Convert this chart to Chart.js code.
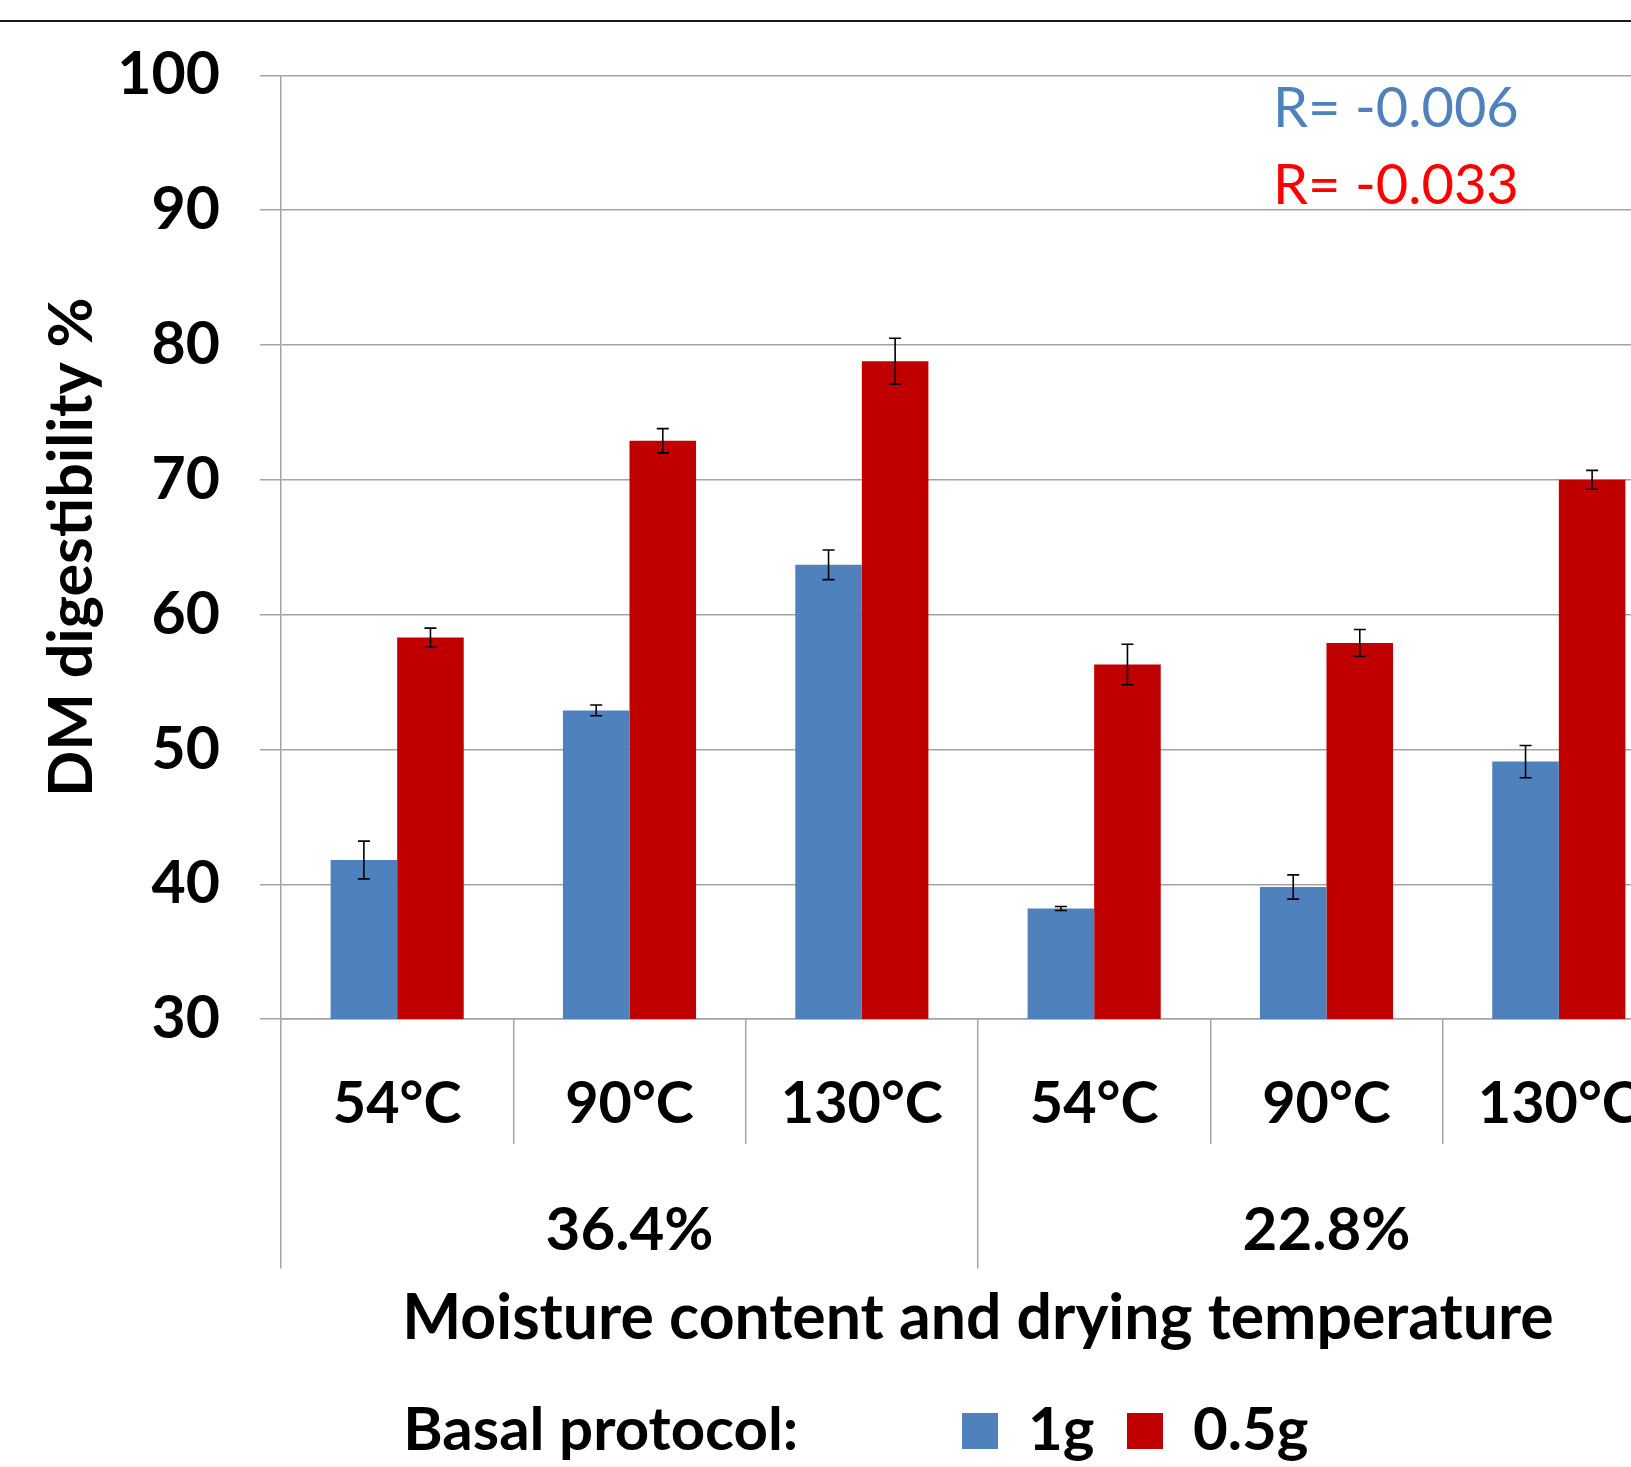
<!DOCTYPE html>
<html>
<head>
<meta charset="utf-8">
<script src="https://cdn.jsdelivr.net/npm/chart.js@4.4.1/dist/chart.umd.min.js"></script>
<style>
  html, body { margin: 0; padding: 0; background: #fff; overflow: hidden; }
  #wrap { position: relative; width: 1631px; height: 1467px; overflow: hidden; }
  #rule { position: absolute; left: 0; top: 20px; width: 1631px; height: 2px; background: #1a1a1a; }
  canvas { position: absolute; left: 0; top: 0; }
</style>
</head>
<body>
<div id="wrap">
  <canvas id="chart" width="1675" height="1471"></canvas>
  <div id="rule"></div>
</div>
<script>
'use strict';

// categories
const temperatures = ['54°C', '90°C', '130°C', '54°C', '90°C', '130°C'];
const moistureGroups = ['36.4%', '22.8%'];

// DM digestibility (%) with error bars
const basal1g = [41.8, 52.9, 63.7, 38.2, 39.8, 49.1];
const basal1gErr = [1.4, 0.4, 1.1, 0.15, 0.9, 1.2];
const basal05g = [58.3, 72.9, 78.8, 56.3, 57.9, 70.0];
const basal05gErr = [0.7, 0.9, 1.7, 1.5, 1.0, 0.7];

// y axis
const yMin = 30;
const yMax = 100;
const yStep = 10;

const rLabels = ['R= -0.006', 'R= -0.033'];

const BLUE = '#4f81bd';
const RED = '#c00000';
const GRID = '#a3a3a3';
const bold = size => ({ family: 'Lato', weight: 'bold', size });

// error bars drawn from the bar elements and the y scale
const errorBars = {
  id: 'errorBars',
  afterDatasetsDraw(chart) {
    const { ctx } = chart;
    const y = chart.scales.y;
    ctx.save();
    ctx.strokeStyle = '#000';
    ctx.lineWidth = 1.6;
    chart.data.datasets.forEach((ds, i) => {
      chart.getDatasetMeta(i).data.forEach((bar, j) => {
        const top = y.getPixelForValue(ds.data[j] + ds.errors[j]);
        const bottom = y.getPixelForValue(ds.data[j] - ds.errors[j]);
        ctx.beginPath();
        ctx.moveTo(bar.x, top);
        ctx.lineTo(bar.x, bottom);
        ctx.moveTo(bar.x - 6, top);
        ctx.lineTo(bar.x + 6, top);
        ctx.moveTo(bar.x - 6, bottom);
        ctx.lineTo(bar.x + 6, bottom);
        ctx.stroke();
      });
    });
    ctx.restore();
  }
};

// correlation labels in the top right
const rText = {
  id: 'rText',
  afterDraw(chart) {
    const { ctx } = chart;
    ctx.save();
    ctx.font = '400 56px Lato';
    ctx.textBaseline = 'middle';
    ctx.textAlign = 'left';
    ctx.fillStyle = BLUE;
    ctx.fillText(rLabels[0], 1273, 109);
    ctx.fillStyle = '#ff0000';
    ctx.fillText(rLabels[1], 1273, 186);
    ctx.restore();
  }
};

const ctx = document.getElementById('chart').getContext('2d');
new Chart(ctx, {
  type: 'bar',
  data: {
    labels: temperatures,
    datasets: [
      {
        label: '1g',
        data: basal1g,
        errors: basal1gErr,
        backgroundColor: BLUE,
        categoryPercentage: 0.573,
        barPercentage: 1.0,
      },
      {
        label: '0.5g',
        data: basal05g,
        errors: basal05gErr,
        backgroundColor: RED,
        categoryPercentage: 0.573,
        barPercentage: 1.0,
      },
    ],
  },
  options: {
    responsive: false,
    animation: false,
    layout: { padding: { top: 74, left: 0, right: 0, bottom: 0 } },
    plugins: {
      tooltip: { enabled: false },
      legend: {
        position: 'bottom',
        labels: {
          color: '#000',
          font: bold(60),
          boxWidth: 36,
          boxHeight: 36,
          padding: 32.5,
          generateLabels: chart => [
            {
              text: 'Basal protocol:' + '\u00a0'.repeat(9),
              fillStyle: 'rgba(0,0,0,0)',
              strokeStyle: 'rgba(0,0,0,0)',
              lineWidth: 0,
              hidden: false,
              datasetIndex: -1,
            },
            ...chart.data.datasets.map((ds, i) => ({
              text: ds.label + (i === 1 ? '\u00a0'.repeat(2) : ''),
              fillStyle: ds.backgroundColor,
              strokeStyle: ds.backgroundColor,
              lineWidth: 0,
              hidden: false,
              datasetIndex: i,
            })),
          ],
        },
      },
    },
    scales: {
      x: {
        type: 'category',
        offset: true,
        weight: 0,
        grid: {
          offset: true,
          drawOnChartArea: false,
          drawTicks: true,
          tickLength: 125,
          color: GRID,
          lineWidth: 1.5,
        },
        border: { display: true, color: GRID, width: 1.5 },
        ticks: { color: '#000', font: bold(57.5), padding: -74, maxRotation: 0, autoSkip: false },
        afterFit: scale => { scale.height = 125; },
      },
      x2: {
        type: 'category',
        position: 'bottom',
        labels: moistureGroups,
        offset: true,
        weight: 1,
        grid: {
          offset: true,
          drawOnChartArea: false,
          drawTicks: true,
          tickLength: 124.4,
          color: GRID,
          lineWidth: 1.5,
        },
        border: { display: false },
        ticks: { color: '#000', font: bold(60), padding: -73.4, maxRotation: 0, autoSkip: false },
        title: {
          display: true,
          text: 'Moisture content and drying temperature',
          color: '#000',
          font: bold(62.5),
          padding: { top: 0, bottom: 12 },
        },
        afterFit: scale => { scale.height = 224.4; },
      },
      y: {
        min: yMin,
        max: yMax,
        ticks: { stepSize: yStep, color: '#000', font: bold(59), padding: 40 },
        grid: { color: GRID, lineWidth: 1.5, tickLength: 21 },
        border: { display: true, color: GRID, width: 1.5 },
        title: {
          display: true,
          text: 'DM digestibility %',
          color: '#000',
          font: bold(61),
          padding: { top: 36, bottom: 0 },
        },
        afterFit: scale => { scale.width = 281; },
      },
    },
  },
  plugins: [errorBars, rText],
});
</script>
</body>
</html>
